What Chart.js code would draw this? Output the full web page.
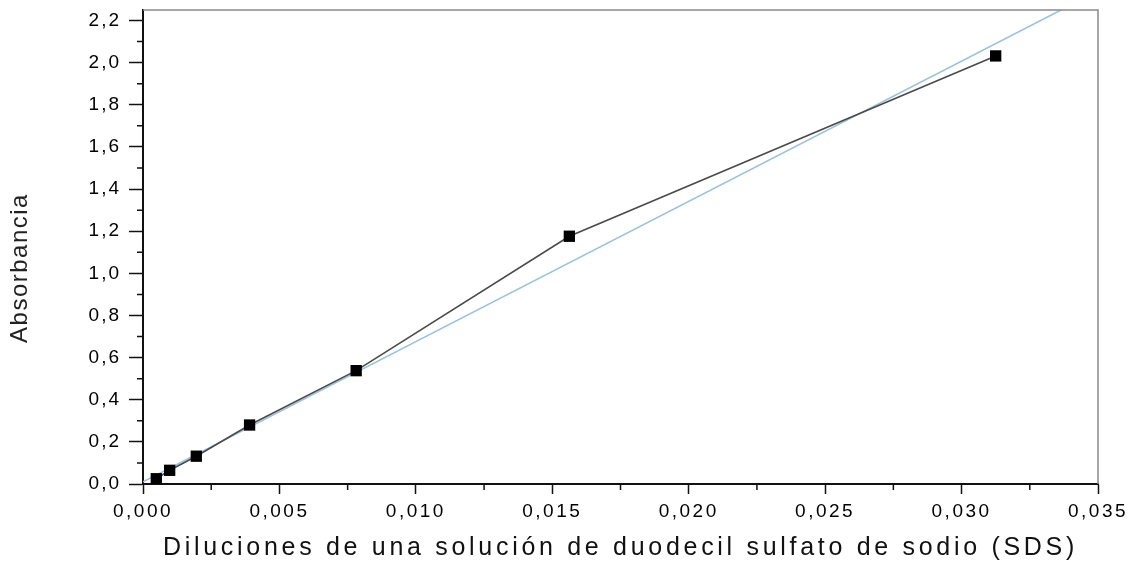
<!DOCTYPE html>
<html><head><meta charset="utf-8">
<script src="https://cdn.jsdelivr.net/npm/chart.js@4.4.1/dist/chart.umd.min.js"></script>
<style>html,body{margin:0;padding:0;background:#fff}canvas{display:block}</style>
</head><body>
<canvas id="c" width="1135" height="565"></canvas>
<script>
// Data
const dilutions  = [0.000488, 0.000977, 0.001953, 0.003906, 0.0078125, 0.015625, 0.03125];
const absorbance = [0.025, 0.065, 0.132, 0.280, 0.538, 1.176, 2.032];
// Linear fit line endpoints
const fitX = [0.0, 0.035];
const fitY = [0.01, 2.34];
// Axes
const xMin = 0, xMax = 0.035, xStep = 0.0025;
const yMin = 0, yMax = 2.25, yStep = 0.1;
const xTitle = 'Diluciones de una solución de duodecil sulfato de sodio (SDS)';
const yTitle = 'Absorbancia';

const FONT = "Arial, 'Liberation Sans', sans-serif";
const isMajorX = v => Math.round(v / xStep) % 2 === 0;
const isMajorY = v => Math.round(v / yStep) % 2 === 0;

function patchScale(scale, titleSpacing, labelSpacing, dy) {
  if (scale._patched) return;
  const proto = Object.getPrototypeOf(scale);
  scale.drawTitle = function () {
    const c = this.ctx; c.save(); c.letterSpacing = titleSpacing; c.translate(0, dy); proto.drawTitle.call(this); c.restore();
  };
  scale.drawLabels = function (area) {
    const c = this.ctx; c.save(); c.letterSpacing = labelSpacing; proto.drawLabels.call(this, area); c.restore();
  };
  scale._patched = true;
}

const spacingPlugin = {
  id: 'spacing',
  beforeDraw(chart) {
    patchScale(chart.scales.x, '3.7px', '2.5px', 0);
    patchScale(chart.scales.y, '1.5px', '2px', 21);
  }
};

const framePlugin = {
  id: 'frame',
  afterDraw(chart) {
    const ctx = chart.ctx, a = chart.chartArea;
    const sx = chart.scales.x, sy = chart.scales.y;
    ctx.save();
    ctx.strokeStyle = '#8a8a8a';
    ctx.lineWidth = 1.5;
    ctx.beginPath();
    ctx.moveTo(a.left, a.top); ctx.lineTo(a.right, a.top); ctx.lineTo(a.right, a.bottom);
    ctx.stroke();
    ctx.strokeStyle = '#111';
    ctx.lineWidth = 1.5;
    ctx.beginPath();
    sx.ticks.forEach(t => {
      if (!isMajorX(t.value)) {
        const px = sx.getPixelForValue(t.value);
        ctx.moveTo(px, a.bottom); ctx.lineTo(px, a.bottom + 6);
      }
    });
    sy.ticks.forEach(t => {
      if (!isMajorY(t.value)) {
        const py = sy.getPixelForValue(t.value);
        ctx.moveTo(a.left - 6, py); ctx.lineTo(a.left, py);
      }
    });
    ctx.stroke();
    ctx.restore();
  }
};

new Chart(document.getElementById('c'), {
  type: 'scatter',
  data: {
    datasets: [
      {
        label: 'Absorbancia',
        data: dilutions.map((x, i) => ({ x, y: absorbance[i] })),
        showLine: true,
        borderColor: '#4a4a4a',
        borderWidth: 1.6,
        pointStyle: 'rect',
        pointRadius: 8,
        pointBackgroundColor: '#000',
        pointBorderColor: '#000',
        pointBorderWidth: 0
      },
      {
        label: 'Ajuste lineal',
        data: fitX.map((x, i) => ({ x, y: fitY[i] })),
        showLine: true,
        borderColor: '#9cc2db',
        borderWidth: 1.6,
        pointRadius: 0
      }
    ]
  },
  options: {
    responsive: false,
    animation: false,
    layout: { padding: { top: 10, right: 37, left: 0, bottom: 0 } },
    plugins: { legend: { display: false }, tooltip: { enabled: false } },
    scales: {
      x: {
        type: 'linear',
        min: xMin, max: xMax,
        afterFit: s => { s.height = 81; s.paddingLeft = 0; s.paddingRight = 0; },
        border: { display: true, color: '#111', width: 2 },
        grid: {
          drawOnChartArea: false,
          tickLength: 10,
          tickWidth: 1.5,
          tickColor: c => (c.tick && isMajorX(c.tick.value)) ? '#111' : 'rgba(0,0,0,0)'
        },
        ticks: {
          stepSize: xStep,
          autoSkip: false,
          maxRotation: 0,
          includeBounds: false,
          padding: 6,
          color: '#000',
          font: { family: FONT, size: 19 },
          callback: v => isMajorX(v) ? v.toFixed(3).replace('.', ',') : ''
        },
        title: {
          display: true,
          text: xTitle,
          color: '#111',
          font: { family: FONT, size: 25 },
          padding: { top: 4, bottom: 2 }
        }
      },
      y: {
        type: 'linear',
        min: yMin, max: yMax,
        afterFit: s => { s.width = 143; s.paddingTop = 0; s.paddingBottom = 0; },
        border: { display: true, color: '#111', width: 2 },
        grid: {
          drawOnChartArea: false,
          tickLength: 14,
          tickWidth: 1.5,
          tickColor: c => (c.tick && isMajorY(c.tick.value)) ? '#111' : 'rgba(0,0,0,0)'
        },
        ticks: {
          stepSize: yStep,
          autoSkip: false,
          includeBounds: false,
          padding: 8,
          color: '#000',
          font: { family: FONT, size: 19 },
          callback: v => isMajorY(v) ? v.toFixed(1).replace('.', ',') : ''
        },
        title: {
          display: true,
          text: yTitle,
          color: '#222',
          font: { family: FONT, size: 24 },
          padding: { top: 6, bottom: 4 }
        }
      }
    }
  },
  plugins: [spacingPlugin, framePlugin]
});
</script>
</body></html>
